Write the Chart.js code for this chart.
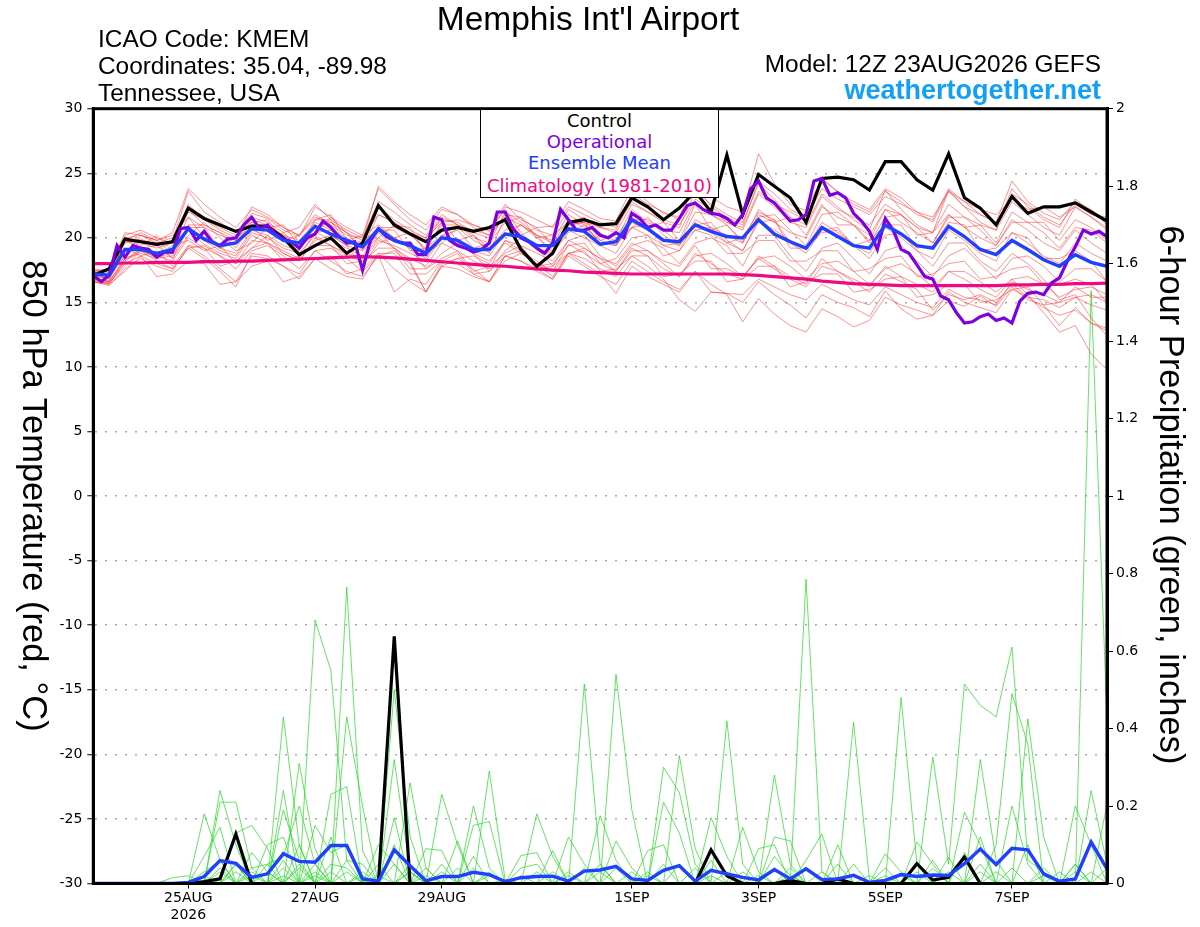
<!DOCTYPE html>
<html><head><meta charset="utf-8">
<script src="https://cdn.jsdelivr.net/npm/chart.js@4.4.1/dist/chart.umd.min.js"></script>
<style>
html,body{margin:0;padding:0;background:#fff;}
#wrap{position:relative;width:1200px;height:927px;overflow:hidden;background:#fff;}
#c{position:absolute;left:0;top:0;}
.t{position:absolute;white-space:nowrap;font-family:"Liberation Sans",Arial,sans-serif;color:#000;line-height:1;}
.ax{position:absolute;width:600px;height:34px;line-height:34px;font-size:34.5px;text-align:center;transform:rotate(90deg);font-family:"Liberation Sans",Arial,sans-serif;white-space:nowrap;}
#legend{position:absolute;left:480px;top:110px;width:239px;height:88px;box-sizing:border-box;background:#fff;border-left:1px solid #000;border-right:1px solid #000;border-bottom:1px solid #000;}
#legend div{position:absolute;left:0;width:100%;text-align:center;font-family:"DejaVu Sans",sans-serif;font-size:18px;line-height:20px;white-space:nowrap;}
</style></head><body>
<div id="wrap">
<canvas id="c" width="1200" height="927"></canvas>
<div class="t" style="left:0;width:1176px;top:2px;font-size:33.5px;text-align:center;">Memphis Int'l Airport</div>
<div class="t" style="left:98px;top:27px;font-size:24.4px;">ICAO Code: KMEM</div>
<div class="t" style="left:98px;top:54px;font-size:24.4px;">Coordinates: 35.04, -89.98</div>
<div class="t" style="left:98px;top:81px;font-size:24.4px;">Tennessee, USA</div>
<div class="t" style="right:99px;top:52px;font-size:24.4px;">Model: 12Z 23AUG2026 GEFS</div>
<div class="t" style="right:99px;top:77px;font-size:27px;font-weight:bold;color:#12a0f6;">weathertogether.net</div>
<div class="ax" style="left:-265px;top:479px;">850 hPa Temperature (red, °C)</div>
<div class="ax" style="left:872px;top:478px;">6-hour Precipitation (green, inches)</div>
<div id="legend">
  <div style="top:1px;color:#000;">Control</div>
  <div style="top:21.5px;color:#8000e0;">Operational</div>
  <div style="top:43px;color:#2040ff;">Ensemble Mean</div>
  <div style="top:66px;color:#ee0a82;">Climatology (1981-2010)</div>
</div>
</div>
<script>
// ---- time axis (hours after 12Z 23AUG2026) ----
const tickHours = [36, 84, 132, 204, 252, 300, 348];
const tickLabels = [['25AUG', '2026'], ['27AUG'], ['29AUG'], ['1SEP'], ['3SEP'], ['5SEP'], ['7SEP']];

// ---- 850 hPa temperature (°C) ----
const controlTemp = [17.1,17.6,19.9,19.7,19.5,19.7,22.3,21.5,21.0,20.5,
20.9,20.9,20.0,18.7,19.4,20.0,18.8,19.6,22.5,21.0,
20.3,19.7,20.6,20.8,20.5,20.8,21.4,19.1,17.8,18.8,
21.2,21.4,21.0,21.1,23.1,22.4,21.4,22.3,23.6,22.0,
26.4,21.8,24.9,24.0,23.1,21.2,24.6,24.7,24.5,23.7,
25.9,25.9,24.5,23.7,26.5,23.1,22.3,21.0,23.2,21.9,
22.4,22.4,22.7,22.0,21.3];

const operationalTemp = [17.1,16.6,17.1,19.4,18.5,19.4,19.2,19.1,18.5,18.9,
18.9,20.7,20.8,19.8,20.5,19.7,19.4,19.9,20.0,21.0,
21.6,20.7,21.0,20.3,19.9,19.7,19.2,20.0,20.3,21.3,
20.8,20.1,19.6,19.7,17.5,19.8,20.7,20.1,19.8,19.6,
19.6,18.7,18.7,21.6,21.4,19.8,19.4,19.2,18.9,19.1,
19.6,22.0,22.0,20.7,20.0,19.7,19.2,18.8,19.6,22.2,
21.4,20.6,20.6,20.8,20.2,20.0,20.4,20.0,21.9,21.5,
20.8,21.0,20.6,20.6,21.5,22.5,22.7,22.2,21.9,21.8,
21.5,21.0,21.8,23.8,24.4,23.1,22.7,22.0,21.3,21.4,
21.8,24.4,24.6,23.3,23.5,23.1,21.9,21.3,20.5,19.1,
21.5,20.6,19.1,18.8,17.9,17.0,16.8,15.5,15.2,14.2,
13.4,13.5,13.9,14.1,13.6,13.8,13.4,15.1,15.7,15.8,
15.6,16.5,16.9,18.2,19.3,20.6,20.3,20.5,20.1];

const meanTemp = [17.2,17.1,19.1,19.1,18.8,19.1,20.7,19.9,19.4,19.6,
20.7,20.6,19.8,19.6,20.9,20.3,19.8,19.3,20.7,19.8,
19.4,18.8,20.0,19.8,19.1,19.1,20.3,20.1,19.4,19.4,
20.7,20.5,19.5,19.7,21.4,20.7,19.8,19.7,21.0,20.5,
20.1,20.0,21.4,20.3,19.7,19.2,20.8,20.1,19.4,19.2,
21.0,20.3,19.4,19.2,20.9,20.1,19.1,18.7,19.8,19.1,
18.3,17.8,18.7,18.1,17.8];

const climoTemp = [18.0,18.0,18.05,18.05,18.1,18.1,18.1,18.15,18.15,18.2,
18.2,18.25,18.3,18.35,18.4,18.45,18.5,18.55,18.5,18.45,
18.35,18.25,18.15,18.05,17.95,17.85,17.8,17.7,17.6,17.5,
17.45,17.35,17.3,17.25,17.2,17.2,17.2,17.2,17.2,17.2,
17.2,17.15,17.1,17.0,16.9,16.8,16.65,16.55,16.45,16.4,
16.35,16.3,16.3,16.3,16.3,16.3,16.3,16.3,16.35,16.35,
16.4,16.4,16.45,16.45,16.5];

// ensemble members (temperature)
const mem01 = [17.3,17.0,19.6,19.9,19.4,19.8,23.6,22.0,21.2,20.4,21.9,21.5,20.6,20.1,22.4,21.6,20.8,20.2,23.8,22.6,21.4,20.6,22.2,21.8,21.0,20.5,22.6,21.4,20.8,20.9,22.8,22.2,21.5,21.3,23.9,22.8,21.9,21.6,24.5,23.2,22.4,22.0,26.5,24.2,22.6,22.1,24.6,23.5,22.8,22.2,23.8,23.1,22.0,21.6,23.6,22.4,21.8,21.2,24.4,22.8,21.9,21.4,22.8,22.2,21.0];
const mem02 = [16.8,16.4,18.2,19.0,18.5,18.8,20.6,19.5,18.8,18.4,20.2,19.6,19.0,18.4,20.5,19.8,19.2,18.6,20.4,19.2,18.4,17.8,19.6,19.0,18.2,17.6,19.8,19.0,18.2,17.4,19.5,18.8,18.0,17.4,19.2,18.6,17.6,17.0,18.8,18.0,17.2,16.8,18.6,17.8,17.0,16.4,18.4,17.4,16.8,16.2,17.8,17.0,16.4,15.8,17.4,16.8,16.0,15.4,16.8,15.6,14.2,12.7,13.2,11.0,9.8];
const mem03 = [17.0,16.9,18.6,19.8,19.6,18.4,20.2,21.2,20.0,19.0,19.6,20.8,21.0,19.4,20.2,21.6,20.4,19.0,20.0,21.0,20.8,18.8,19.6,20.8,19.8,19.2,20.2,21.0,20.2,18.8,20.4,21.0,19.6,19.4,20.8,21.6,20.2,19.4,21.0,21.2,19.8,19.0,21.2,21.4,19.6,18.8,20.6,20.8,19.4,18.4,20.2,20.4,19.0,17.8,19.6,19.6,18.2,17.4,18.8,18.0,16.8,15.2,15.6,13.8,12.4];
const mem04 = [16.6,16.3,17.6,18.4,17.8,17.4,19.4,18.6,17.6,16.6,18.6,18.4,17.8,17.2,19.0,18.2,17.4,17.0,18.6,15.8,16.8,16.4,18.2,18.0,17.2,16.6,18.6,18.2,17.6,16.8,18.8,18.0,17.2,15.7,17.8,17.0,16.4,15.8,17.4,15.8,15.7,15.0,16.6,15.6,14.8,13.8,15.6,15.0,14.6,13.9,15.9,14.5,13.7,14.0,15.1,14.7,15.5,14.7,16.2,15.2,14.8,13.2,14.6,13.4,12.8];
const mem05 = [17.4,17.2,20.2,20.6,20.0,19.6,22.0,21.4,20.6,20.0,22.4,21.8,20.8,20.2,21.8,21.0,20.2,20.0,22.8,22.0,21.0,20.2,21.4,21.2,20.4,20.0,21.8,21.6,20.6,20.2,22.2,21.4,20.8,20.4,22.6,22.0,21.2,20.8,23.6,22.6,21.8,21.2,24.2,23.0,21.6,21.0,23.4,22.4,21.4,20.6,23.7,22.2,21.0,20.4,23.7,22.4,21.2,20.6,22.8,21.8,20.8,20.2,22.4,21.6,20.6];
const mem06 = [16.9,16.6,18.2,19.2,18.4,19.4,19.8,19.0,19.4,18.0,19.2,20.2,18.8,18.2,19.8,20.2,19.4,17.8,19.6,20.0,19.2,17.6,18.8,19.6,18.8,17.4,19.0,20.0,19.2,17.8,19.8,20.2,18.6,17.8,19.4,19.8,19.2,18.0,19.6,20.0,19.4,17.8,20.2,20.2,18.6,17.4,19.2,19.6,18.4,17.2,19.0,19.4,18.2,17.0,18.6,19.2,18.0,16.8,18.4,18.6,17.8,16.6,17.6,17.6,16.6];
const mem07 = [17.6,17.4,20.0,20.2,19.8,20.2,21.6,20.8,20.2,19.8,21.6,21.2,20.4,20.8,22.6,21.4,20.6,20.0,21.8,21.2,20.2,19.6,21.6,21.0,20.0,19.6,22.0,21.2,20.2,19.8,21.8,21.0,20.2,19.8,22.2,21.2,20.6,20.4,22.8,21.8,21.2,20.6,23.4,22.4,21.2,20.8,23.2,22.2,21.6,21.0,22.6,21.8,20.8,20.4,22.6,21.6,21.0,20.6,23.8,22.4,21.4,20.8,23.0,22.0,21.4];
const mem08 = [16.7,16.5,18.0,18.6,18.0,17.6,19.2,18.4,17.4,16.2,18.8,18.6,17.8,16.8,18.4,17.6,17.0,16.8,18.8,17.6,16.6,15.8,17.8,17.6,17.0,16.6,18.6,18.2,17.4,16.8,18.6,17.8,17.0,16.4,18.2,17.4,16.6,16.0,17.4,16.4,15.6,13.5,15.3,14.1,13.2,12.7,14.5,13.9,13.1,13.6,15.4,14.8,14.4,14.0,15.8,15.0,14.6,14.2,16.0,15.4,15.2,14.6,15.4,14.8,14.4];
const mem09 = [17.2,16.8,19.8,19.4,20.2,19.0,21.6,20.0,19.2,20.0,20.8,19.8,20.4,19.2,21.4,21.8,19.8,20.2,21.0,20.0,20.4,19.0,21.2,19.8,20.2,18.8,21.6,20.2,20.8,19.4,21.2,21.6,19.8,20.2,21.6,20.8,21.2,19.8,22.6,20.6,21.0,19.6,22.2,21.2,21.6,20.2,22.6,21.0,21.0,19.6,21.6,21.8,20.2,20.4,21.8,20.8,21.0,19.6,22.0,21.2,21.2,19.8,21.4,20.8,19.8];
const mem10 = [16.8,16.7,19.2,18.6,19.0,17.8,19.4,19.2,17.8,18.2,19.2,19.6,18.2,18.6,19.4,19.4,18.0,18.2,19.2,19.2,17.6,17.6,18.4,19.0,17.4,17.8,18.8,19.4,17.8,18.0,19.4,19.6,18.0,18.4,20.0,20.2,18.6,19.0,20.6,20.2,18.8,18.8,19.8,19.8,18.2,18.2,19.0,19.0,17.4,17.6,18.4,18.6,17.0,17.2,18.0,18.2,16.8,17.0,17.6,17.8,16.4,16.4,16.8,16.4,15.0];
const mem11 = [17.5,17.3,19.8,20.4,19.8,20.4,23.8,22.6,21.6,20.8,22.2,21.6,20.8,20.2,21.6,21.2,20.4,19.8,24.0,22.8,21.8,21.0,22.4,21.8,20.8,20.2,21.6,21.0,20.2,19.6,21.4,20.8,19.8,19.4,21.2,20.6,19.8,19.4,21.4,20.8,20.2,19.6,21.8,21.2,20.4,20.0,22.4,21.6,21.0,20.2,22.2,21.2,20.4,19.6,21.8,20.8,20.0,19.4,21.4,20.6,19.6,19.0,20.6,19.6,18.8];
const mem12 = [16.6,16.4,17.4,18.6,17.0,17.2,18.2,18.0,16.4,16.6,17.8,18.2,16.6,17.0,18.4,18.6,17.2,17.6,18.8,18.8,17.2,17.2,18.2,18.8,17.2,17.4,18.6,19.0,17.6,17.8,18.8,19.0,17.4,17.6,18.6,18.6,17.0,17.2,18.2,18.2,16.6,16.8,17.8,17.8,16.2,16.6,17.2,17.2,15.8,16.0,16.8,17.0,15.4,15.6,16.4,16.4,15.0,15.2,16.0,16.2,14.8,15.0,15.4,15.6,15.0];
const mem13 = [17.1,17.5,19.8,19.6,19.2,19.6,22.6,21.4,20.8,20.2,21.2,20.8,20.0,19.2,20.4,20.6,19.6,19.6,22.4,21.4,20.6,20.0,21.2,21.4,21.0,20.6,22.2,20.4,19.2,18.6,21.0,21.2,20.8,20.6,23.4,22.6,22.0,21.4,24.2,22.4,21.6,21.0,24.4,23.4,22.2,21.6,23.8,23.0,22.4,21.8,23.2,22.6,22.0,21.2,23.6,22.8,21.8,21.2,23.4,22.6,21.6,21.0,22.6,21.8,21.6];
const mem14 = [17.0,16.9,18.9,19.3,18.7,19.0,20.9,20.0,19.2,18.8,20.6,20.2,19.4,19.0,21.0,20.2,19.4,19.0,20.8,20.0,19.2,18.4,20.2,19.8,19.0,18.6,20.4,20.0,19.2,18.8,20.6,20.0,19.4,18.8,20.8,20.2,19.4,19.0,21.2,20.4,19.6,19.0,21.4,20.6,19.8,19.2,21.2,20.4,19.4,18.8,20.8,20.0,19.0,18.4,20.6,19.8,18.8,18.2,20.4,19.6,18.6,18.0,19.6,18.8,18.2];
const mem15 = [16.9,16.6,18.4,19.0,18.6,18.2,20.0,19.2,18.6,18.0,19.8,19.6,18.8,18.2,20.0,19.4,18.8,18.4,20.0,19.2,18.2,15.8,17.8,18.4,18.6,18.0,19.8,19.4,18.8,18.2,19.8,19.2,18.4,18.0,19.6,19.0,18.2,17.8,19.4,17.6,17.6,17.0,18.4,17.6,16.8,16.2,17.8,17.4,16.6,15.8,17.2,16.6,16.0,14.4,15.6,15.2,15.6,15.0,16.4,15.4,14.6,14.0,14.4,13.4,13.0];
const mem16 = [17.3,17.1,18.6,20.2,19.8,18.8,21.0,21.0,20.4,19.2,21.0,20.8,20.2,19.4,20.8,21.2,20.4,19.2,20.8,20.8,20.2,19.2,21.0,21.0,20.2,19.2,20.6,21.0,20.0,19.0,21.0,21.2,20.4,19.4,21.4,21.4,20.6,19.6,22.0,21.8,21.0,19.8,21.6,21.8,20.6,19.4,21.8,22.0,21.0,19.8,22.2,21.8,20.8,19.6,21.6,21.6,20.6,19.4,21.2,21.2,20.4,19.2,20.8,20.6,19.6];
const mem17 = [16.8,16.6,18.4,18.8,18.4,18.6,20.6,19.8,19.0,18.6,20.4,20.0,19.2,18.8,20.2,19.4,18.6,18.2,19.8,19.4,18.8,18.2,20.0,19.6,18.8,18.2,19.6,18.8,18.0,17.4,18.8,18.4,17.6,17.0,18.6,17.8,16.8,15.2,14.3,15.8,15.7,15.6,16.8,16.2,15.6,15.2,16.4,15.8,15.2,14.8,16.2,15.6,15.0,14.6,16.0,15.4,15.2,14.8,16.6,16.0,15.6,15.0,16.2,15.4,15.4];
const mem18 = [17.4,17.6,20.4,20.2,19.6,20.0,22.2,21.0,20.4,19.8,21.4,21.0,20.2,19.8,21.2,20.6,20.0,19.2,21.8,21.2,20.4,20.0,21.8,21.0,20.6,20.2,22.4,22.0,21.4,20.8,22.4,21.8,21.2,20.8,22.8,22.0,21.4,21.0,23.0,22.2,21.2,20.8,23.6,22.6,22.0,21.4,24.6,23.6,22.6,22.0,23.6,22.8,21.8,21.4,23.8,22.8,22.2,21.8,23.0,22.2,22.4,21.6,22.4,21.6,20.8];
const mem19 = [16.6,16.5,17.8,19.0,18.2,17.6,19.2,19.4,18.6,17.6,19.0,19.4,18.6,17.6,19.0,19.2,18.4,17.4,18.6,19.0,18.0,15.8,18.0,18.4,17.6,16.6,18.2,18.8,18.0,17.0,18.8,19.2,18.4,17.4,19.0,19.0,18.0,17.0,18.6,18.8,18.0,17.0,18.4,18.6,17.8,16.8,18.0,18.2,17.4,16.4,17.6,18.0,17.2,16.2,17.4,17.4,16.6,15.8,16.8,17.0,16.4,15.4,16.0,16.2,15.6];
const mem20 = [17.2,17.0,19.8,19.2,19.4,18.4,20.8,20.8,19.2,19.6,21.2,21.4,19.8,20.2,21.4,21.4,19.4,19.8,20.6,20.6,19.0,19.2,20.2,20.6,19.2,19.6,21.2,21.6,20.0,20.2,21.2,21.2,19.4,19.8,20.8,21.0,19.4,19.6,20.6,20.8,19.6,20.0,22.0,21.4,19.2,19.2,20.4,20.6,19.4,19.8,21.0,21.0,19.2,19.4,21.2,21.0,19.0,19.2,20.4,20.0,18.4,18.4,19.0,18.2,16.6];
const memberTemps = [mem01,mem02,mem03,mem04,mem05,mem06,mem07,mem08,mem09,mem10,mem11,mem12,mem13,mem14,mem15,mem16,mem17,mem18,mem19,mem20];

// ---- 6-hour precipitation (inches) ----
const controlPrecip = [0,0,0,0,0,0,0,.005,.012,.128, 0,0,0,0,0,0,0,0,0,.638, 0,0,0,0,0,0,0,0,0,0, 0,0,0,0,0,0,0,0,0,.087, .02,0,0,0,.008,0,0,.012,0,0, 0,0,.051,.009,.016,.068,0,0,0,0, 0,0,0,0,0];
const meanPrecip = [0,0,0,0,0,0,.003,.018,.059,.052, .016,.025,.077,.057,.055,.098,.098,.012,.006,.087, .046,.007,.018,.018,.029,.023,.005,.015,.018,.019, .006,.032,.035,.044,.012,.008,.034,.046,.006,.034, .025,.016,.009,.036,.012,.038,.010,.012,.021,.003, .008,.023,.018,.022,.021,.051,.089,.049,.091,.087, .025,.006,.012,.107,.038];

const pm01 = [0,0,0,0,0,0,0,.18,.06,0, 0,0,0,0,.68,.55,.06,0,0,0, 0,0,0,0,0,0,0,0,0,0, 0,.515,.05,0,0,0,0,0,0,0, 0,0,0,0,0,0,0,0,0,0, 0,0,0,0,0,0,.12,0,0,0, 0,0,0,1.53,.42];
const pm02 = [0,0,0,0,0,0,0,0,.24,.1, 0,0,0,0,0,0,.765,.085,0,0, 0,0,0,0,0,0,0,0,0,0, 0,0,0,.54,.19,0,0,0,0,0, 0,0,0,0,0,.786,.03,0,0,0, 0,0,0,0,0,0,0,0,0,0, 0,0,.05,0,0];
const pm03 = [0,0,0,0,0,0,0,0,.21,.21, .04,0,.43,.1,0,0,0,0,0,.5, .12,0,0,0,0,0,0,0,0,0, 0,0,0,0,0,0,0,0,0,0, .42,.05,0,0,0,0,0,0,0,0, 0,0,0,0,0,0,0,0,.2,.05, 0,0,0,0,0];
const pm04 = [0,0,0,0,0,0,0,.07,.145,0, 0,0,.24,0,0,.23,.25,0,0,.32, .03,0,0,0,0,.29,.01,0,0,0, 0,0,0,0,0,0,0,0,0,0, 0,0,0,0,0,0,0,0,0,0, 0,.48,.05,0,0,0,0,0,0,0, 0,0,0,0,0];
const pm05 = [0,0,0,0,0,0,0,0,0,.13, .15,.09,0,.31,.09,0,.43,.2,0,0, 0,0,.23,.1,0,0,0,0,0,0, 0,0,0,0,0,0,0,0,0,0, 0,0,0,0,0,0,0,0,.416,.01, 0,0,0,0,0,0,0,.1,.49,.36, 0,0,0,0,0];
const pm06 = [0,0,0,0,0,0,0,0,0,0, 0,0,.19,.06,0,0,0,0,0,0, .26,.04,0,0,0,0,0,0,0,0, 0,0,0,0,0,0,.3,.235,.05,0, 0,0,0,0,0,0,0,0,0,0, 0,0,0,.326,.05,.515,.46,.43,.61,.06, .03,0,0,0,0];
const pm07 = [0,0,0,0,0,0,0,.03,.06,0, 0,.1,.12,0,0,.12,0,0,0,.17, 0,0,0,0,.2,.04,0,0,0,0, 0,0,0,0,0,0,0,.33,.09,0, 0,0,0,.28,.05,0,0,0,0,0, 0,0,0,0,0,0,.32,.06,0,0, 0,0,0,.24,.05];
const pm08 = [0,0,0,0,0,0,0,0,0,.05, 0,.05,.07,.2,.05,0,0,0,0,0, 0,.09,.085,0,0,0,0,0,.18,.07, 0,0,0,0,0,0,0,0,0,.17, .07,0,0,0,0,0,0,0,0,0, 0,0,0,0,0,.184,.1,0,0,.425, .12,0,0,0,0];
const pm09 = [0,0,0,0,0,0,0,0,0,0, .08,.03,0,0,.15,.08,.1,0,.1,.05, 0,0,0,0,.15,.16,0,0,0,0, .12,.05,0,0,0,0,0,0,0,0, 0,0,0,.12,.11,0,0,0,0,0, 0,0,0,0,0,0,0,0,0,0, 0,0,.2,.1,0];
const pm10 = [0,0,0,0,0,0,0,0,0,0, 0,0,0,.1,0,0,.06,.05,0,0, .03,0,0,.11,0,0,0,0,0,.085, 0,0,0,.11,.04,0,.21,.13,0,0, 0,0,0,0,0,.06,.128,0,0,0, .077,.03,0,0,0,0,0,0,0,0, 0,0,0,0,.205];
const pm11 = [0,0,0,0,0,.015,.02,0,0,0, 0,0,0,0,0,0,0,0,.05,0, 0,0,.03,0,.07,0,0,.072,.08,0, 0,0,.175,.06,0,0,0,0,0,0, 0,.145,.03,0,0,0,0,.1,0,0, 0,0,0,.06,0,0,0,0,0,0, 0,0,0,0,0];
const pm12 = [0,0,0,0,0,0,0,0,.03,0, .04,.05,0,0,.05,0,0,0,0,.05, 0,.04,0,0,0,0,0,.04,.05,0, 0,0,0,0,0,.085,.1,0,0,0, 0,0,.09,.1,0,0,0,0,0,0, 0,0,.107,.05,0,0,0,0,0,0, 0,0,.05,0,0];
const pm13 = [0,0,0,0,0,0,0,0,0,.05, 0,0,.04,0,0,.05,.04,0,0,0, .03,0,0,0,0,0,.01,0,0,0, .03,0,0,0,.03,0,0,0,.04,0, 0,0,0,.07,.02,0,0,0,0,0, .04,0,0,0,.068,0,0,0,0,0, 0,.03,0,0,0];
const pm14 = [0,0,0,0,0,0,0,0,0,0, 0,.03,0,.05,0,0,0,.03,0,0, 0,0,0,.04,0,0,0,0,0,.03, 0,0,.05,0,0,.03,0,0,0,.06, 0,0,0,0,.04,0,0,.05,0,0, 0,0,.03,0,0,0,.05,0,0,0, .04,0,0,0,0];
const pm15 = [0,0,0,0,0,0,0,0,.04,0, .03,0,.06,0,.03,0,0,0,0,.1, 0,0,.05,0,0,.03,0,0,0,0, 0,.04,0,0,0,0,.05,0,0,0, .03,0,0,0,0,.04,0,0,.05,0, 0,0,0,0,0,.08,0,0,0,.1, 0,0,0,0,0];
const pm16 = [0,0,0,0,0,0,0,.02,0,.03, 0,0,0,.04,0,0,.03,0,.02,0, 0,0,0,0,.04,0,0,0,.03,0, 0,0,0,.04,0,0,0,.05,0,0, 0,0,.02,0,0,0,.03,0,0,0, 0,.02,0,0,.03,0,0,0,.04,0, 0,0,0,.03,0];
const pm17 = [0,0,0,0,0,0,0,0,0,0, 0,0,.02,0,0,.03,0,0,0,0, .05,0,0,0,0,0,0,.02,0,0, 0,0,.03,0,0,0,0,0,0,.02, 0,0,0,.04,0,0,0,0,0,.02, 0,0,0,.04,0,0,0,.03,0,0, 0,0,.03,0,.04];
const pm18 = [0,0,0,0,0,0,0,0,0,0, .02,0,0,0,.02,0,0,.02,0,0, 0,.02,0,0,0,.02,0,0,0,0, .02,0,0,0,0,.02,0,0,0,0, 0,.03,0,0,.02,0,0,0,0,0, .02,0,0,0,0,0,.03,0,0,0, .02,0,0,0,0];
const memberPrecips = [pm01,pm02,pm03,pm04,pm05,pm06,pm07,pm08,pm09,pm10,pm11,pm12,pm13,pm14,pm15,pm16,pm17,pm18];

// ---- build datasets ----
const stepHours = (n, total) => Array.from({length: n}, (_, i) => i * total / (n - 1));
function pts(vals) {
  const hrs = stepHours(vals.length, 384);
  return vals.map((v, i) => ({x: hrs[i], y: v}));
}
const base = {pointRadius: 0, pointHoverRadius: 0, tension: 0, fill: false, spanGaps: true};
const datasets = [];
memberPrecips.forEach(a => datasets.push(Object.assign({}, base, {data: pts(a), yAxisID: 'yP', borderColor: 'rgba(25,215,25,0.9)', borderWidth: 0.75, order: 12})));
memberTemps.forEach(a => datasets.push(Object.assign({}, base, {data: pts(a), yAxisID: 'yT', borderColor: 'rgba(255,50,50,0.7)', borderWidth: 0.75, order: 11})));
datasets.push(Object.assign({}, base, {label: 'Climatology (1981-2010)', data: pts(climoTemp), yAxisID: 'yT', borderColor: '#ee0a82', borderWidth: 3.2, order: 5}));
datasets.push(Object.assign({}, base, {label: 'Control', data: pts(controlTemp), yAxisID: 'yT', borderColor: '#000', borderWidth: 3.2, order: 4}));
datasets.push(Object.assign({}, base, {label: 'Control precip', data: pts(controlPrecip), yAxisID: 'yP', borderColor: '#000', borderWidth: 3.2, order: 4}));
datasets.push(Object.assign({}, base, {label: 'Operational', data: pts(operationalTemp), yAxisID: 'yT', borderColor: '#7f00df', borderWidth: 3.2, order: 3}));
datasets.push(Object.assign({}, base, {label: 'Ensemble Mean', data: pts(meanTemp), yAxisID: 'yT', borderColor: '#2040ff', borderWidth: 3.4, order: 1}));
datasets.push(Object.assign({}, base, {label: 'Ensemble Mean precip', data: pts(meanPrecip), yAxisID: 'yP', borderColor: '#2040ff', borderWidth: 3.4, order: 1}));

const frame = {
  id: 'frame',
  afterDraw(chart) {
    const {ctx, chartArea: a} = chart;
    ctx.save();
    ctx.strokeStyle = '#000';
    ctx.lineWidth = 3;
    ctx.strokeRect(a.left, a.top, a.right - a.left, a.bottom - a.top);
    ctx.restore();
  }
};
const tickFont = {family: 'DejaVu Sans', size: 14};

new Chart(document.getElementById('c'), {
  type: 'line',
  data: {datasets},
  plugins: [frame],
  options: {
    responsive: false, animation: false, devicePixelRatio: 1,
    layout: {padding: {top: 108.7, left: 0, right: 0, bottom: 0}},
    plugins: {legend: {display: false}, tooltip: {enabled: false}},
    events: [],
    scales: {
      x: {
        type: 'linear', position: 'bottom', min: 0, max: 384,
        afterBuildTicks: s => { s.ticks = tickHours.map(v => ({value: v})); },
        afterFit: s => { s.height = 43.5; },
        ticks: {callback: (v, i) => tickLabels[i], font: Object.assign({lineHeight: 1.18}, tickFont), color: '#000', padding: 2, maxRotation: 0, autoSkip: false},
        grid: {drawOnChartArea: false, drawTicks: true, tickLength: 5, color: '#000', tickColor: '#000', lineWidth: 1},
        border: {display: true, color: '#000', width: 3}
      },
      yT: {
        type: 'linear', position: 'left', min: -30, max: 30,
        afterFit: s => { s.width = 93.3; },
        ticks: {stepSize: 5, font: tickFont, color: '#000', padding: 5},
        grid: {color: '#a8a8a8', lineWidth: 1.5, drawTicks: true, tickLength: 6, tickColor: '#000', tickWidth: 1, tickBorderDash: []},
        border: {display: true, color: '#000', width: 3, dash: [2, 8]}
      },
      yP: {
        type: 'linear', position: 'right', min: 0, max: 2,
        afterFit: s => { s.width = 93; },
        ticks: {stepSize: 0.2, font: tickFont, color: '#000', padding: 3, callback: v => String(Math.round(v * 10) / 10)},
        grid: {drawOnChartArea: false, drawTicks: true, tickLength: 6, color: '#000', tickColor: '#000', tickWidth: 1},
        border: {display: true, color: '#000', width: 3}
      }
    }
  }
});
</script>
</body></html>
